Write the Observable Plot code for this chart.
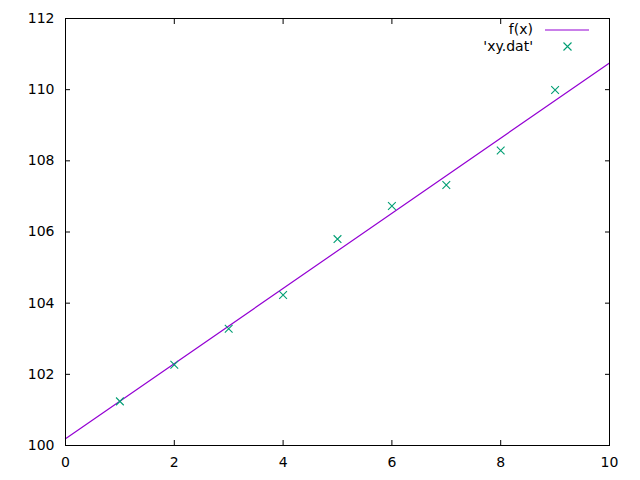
<!DOCTYPE html>
<html>
<head>
<meta charset="utf-8">
<script src="https://cdn.jsdelivr.net/npm/d3@7"></script>
<script src="https://cdn.jsdelivr.net/npm/@observablehq/plot@0.6"></script>
<style>
  body { margin: 0; background: #fff; }
  #chart { position: relative; width: 640px; height: 480px; font-family: "DejaVu Sans", sans-serif; }
  .legend { position: absolute; right: 107px; font-size: 14px; line-height: 17px; text-align: right; color: #000; }
  .legend-key { position: absolute; }
</style>
</head>
<body>
<div id="chart"></div>
<script>
// data points ('xy.dat')
const xs = [1, 2, 3, 4, 5, 6, 7, 8, 9];
const ys = [101.24, 102.27, 103.28, 104.23, 105.8, 106.73, 107.32, 108.29, 109.99];

// fitted line f(x), end values at x = 0 and x = 10
const fitX = [0, 10];
const fitY = [100.19, 110.75];

const xTicks = [0, 2, 4, 6, 8, 10];
const yTicks = [100, 102, 104, 106, 108, 110, 112];

const purple = "#9400d3";
const teal = "#009e73";

const points = xs.map((x, i) => ({ x, y: ys[i] }));
const fit = fitX.map((x, i) => ({ x, y: fitY[i] }));

const chart = Plot.plot({
    width: 640,
    height: 480,
    marginLeft: 65,
    marginRight: 31,
    marginTop: 18,
    marginBottom: 35,
    style: { fontFamily: "DejaVu Sans, sans-serif", fontSize: "14px", color: "#000", background: "#fff" },
    x: { domain: [0, 10], label: null },
    y: { domain: [100, 112], label: null },
    marks: [
        // tick labels
        Plot.axisX({ ticks: xTicks, tickSize: 0, tickPadding: 12, tickFormat: (d) => d.toString() }),
        Plot.axisY({ ticks: yTicks, tickSize: 0, tickPadding: 11, tickFormat: (d) => d.toString() }),
        // inward ticks on all four sides
        Plot.axisX({ ticks: xTicks, anchor: "bottom", tickSize: -5, text: null, label: null }),
        Plot.axisX({ ticks: xTicks, anchor: "top", tickSize: -5, text: null, label: null }),
        Plot.axisY({ ticks: yTicks, anchor: "left", tickSize: -5, text: null, label: null }),
        Plot.axisY({ ticks: yTicks, anchor: "right", tickSize: -5, text: null, label: null }),
        Plot.line(fit, { x: "x", y: "y", stroke: purple, strokeWidth: 1.2 }),
        Plot.dot(points, { x: "x", y: "y", symbol: "times", r: 3.6, stroke: teal, strokeWidth: 1.1 }),
        Plot.frame({ stroke: "#000", strokeWidth: 1 })
    ]
});

const box = document.getElementById("chart");
box.appendChild(chart);

// legend inside the top right corner, as gnuplot draws it
const legend = document.createElement("div");
legend.innerHTML = `
  <div class="legend" style="top:21px">f(x)</div>
  <svg class="legend-key" style="left:545px;top:21px" width="44" height="17"><line x1="0" x2="44" y1="9" y2="9" stroke="${purple}" stroke-width="1.2"/></svg>
  <div class="legend" style="top:38px">'xy.dat'</div>
  <svg class="legend-key" style="left:562px;top:38px" width="11" height="17"><path d="M1.5 4.5L9.5 12.5M9.5 4.5L1.5 12.5" stroke="${teal}" stroke-width="1.1"/></svg>`;
box.appendChild(legend);
</script>
</body>
</html>
